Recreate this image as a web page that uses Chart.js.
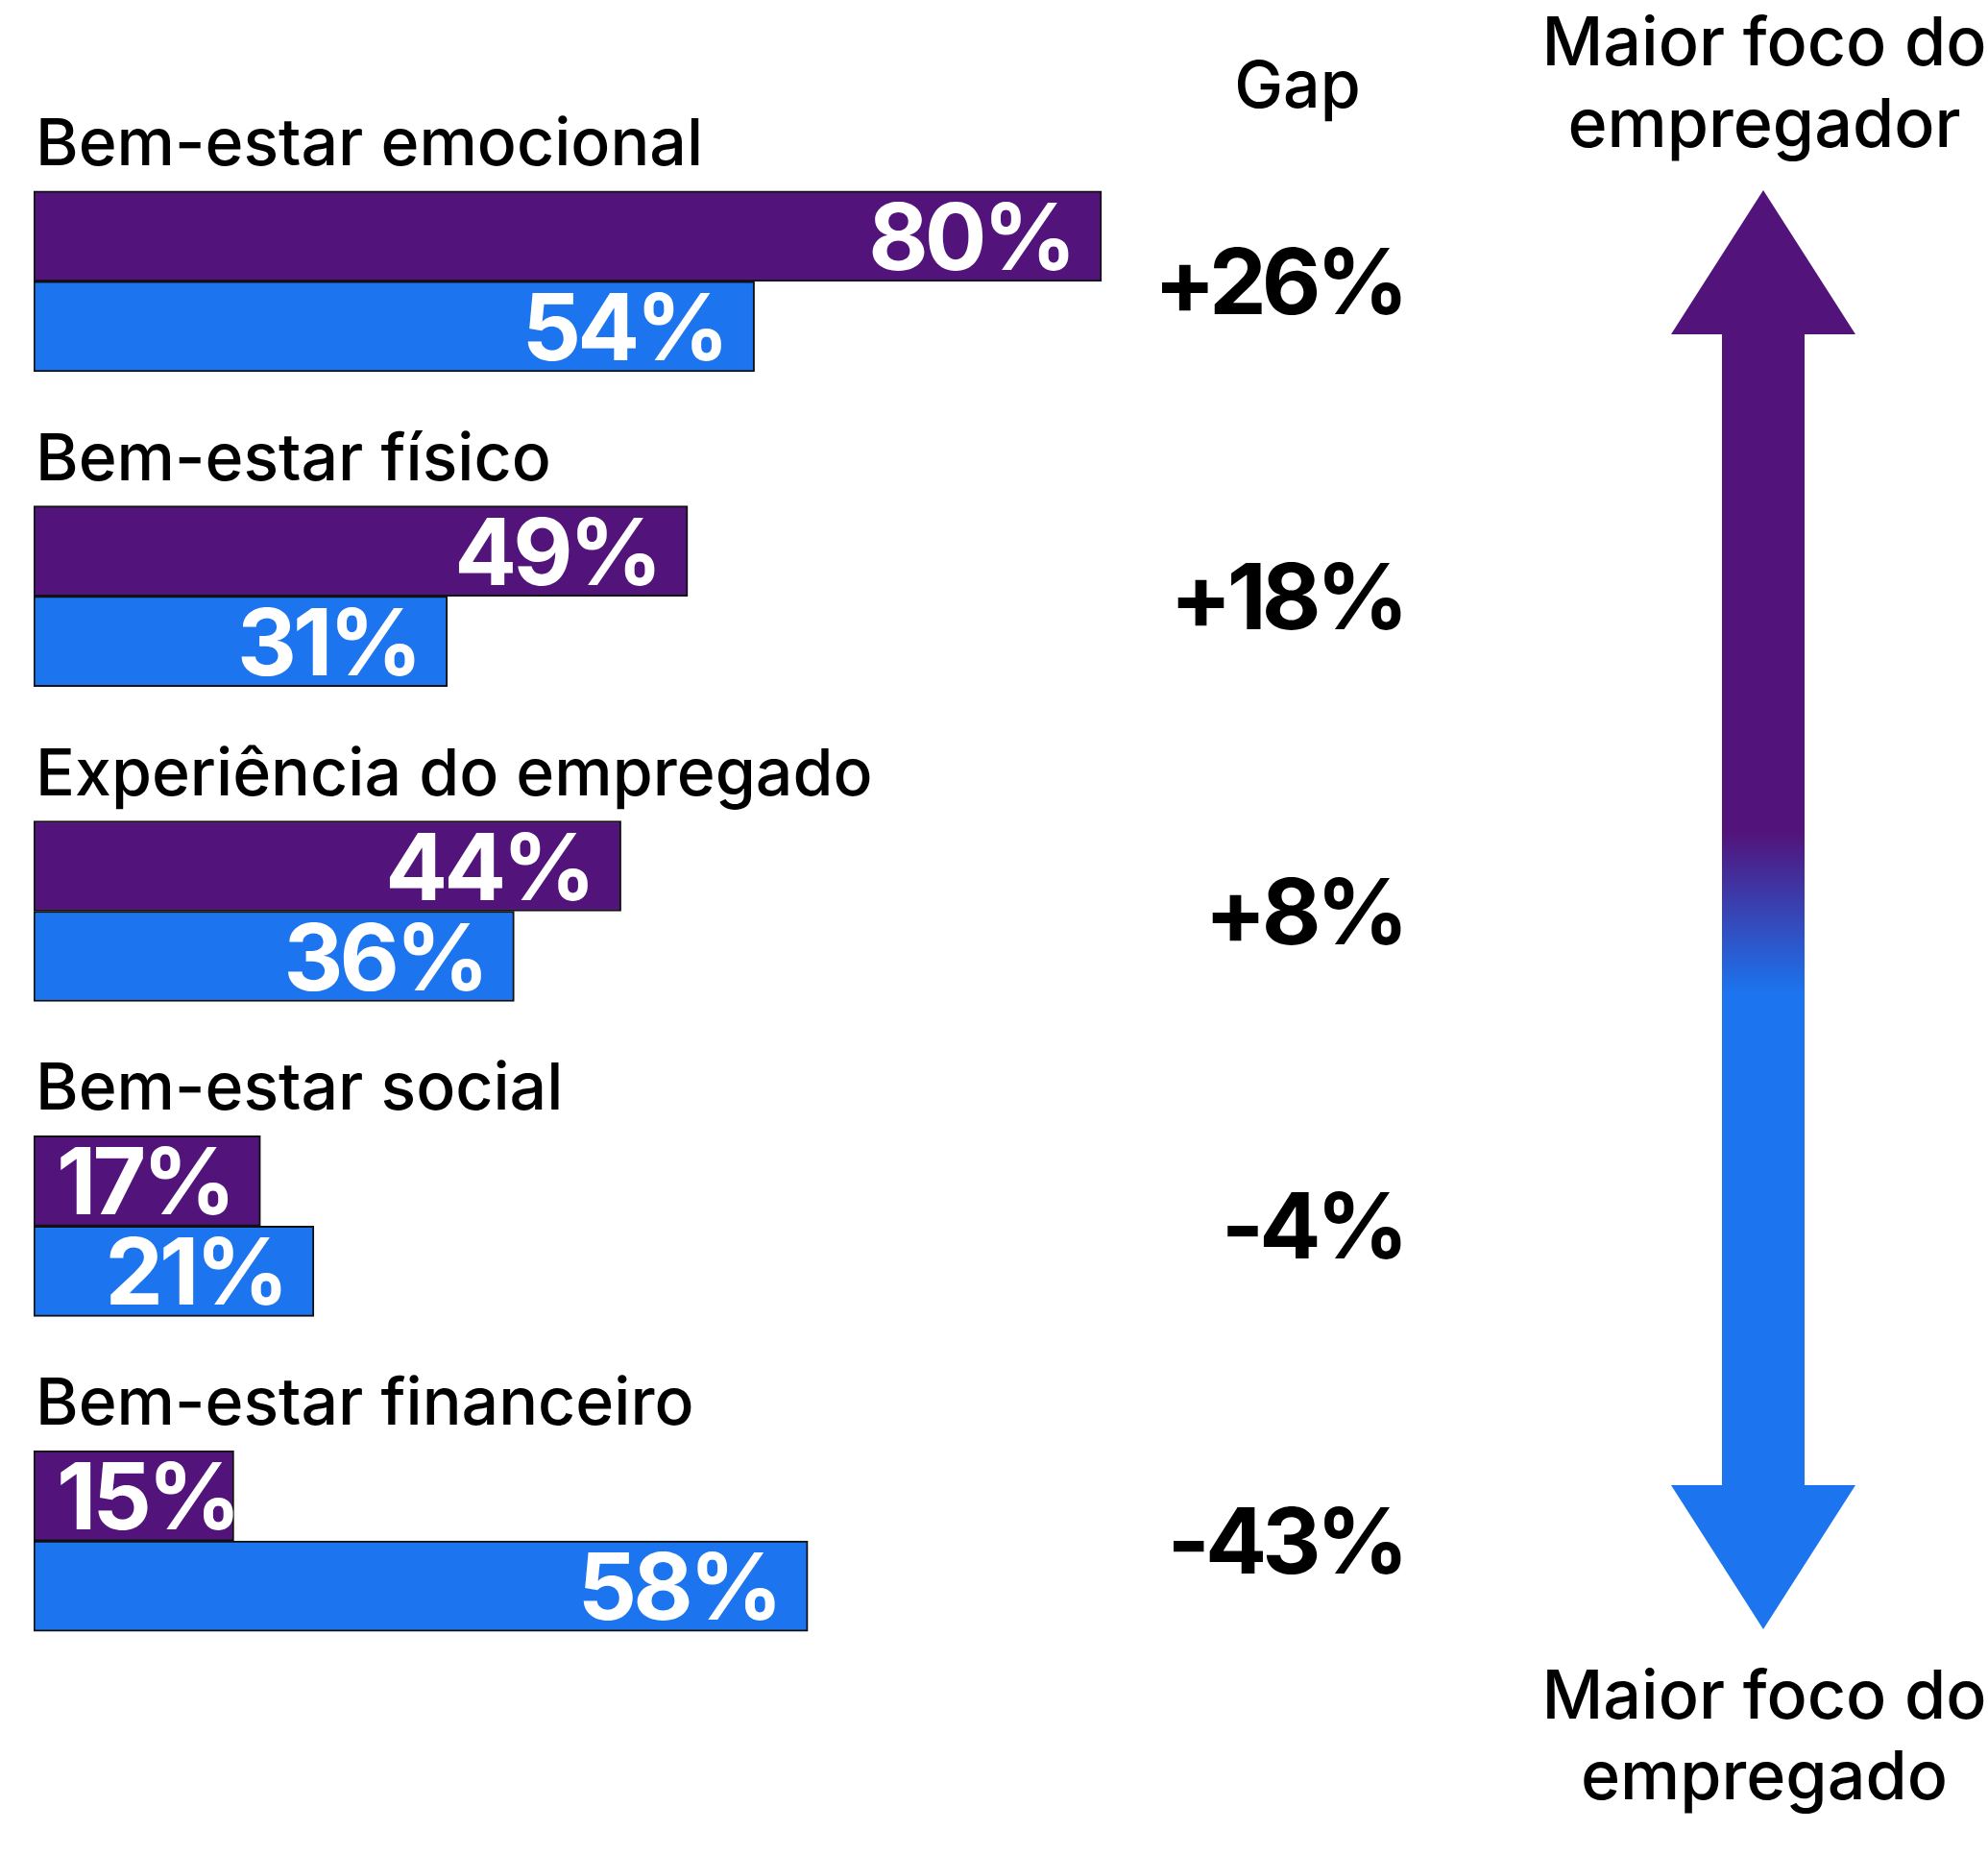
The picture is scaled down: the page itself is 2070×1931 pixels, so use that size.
<!DOCTYPE html>
<html>
<head>
<meta charset="utf-8">
<script src="https://cdn.jsdelivr.net/npm/chart.js@4.4.0/dist/chart.umd.min.js"></script>
<style>
  html, body { margin: 0; padding: 0; background: #fff; }
  #wrap { width: 2070px; height: 1931px; position: relative; }
</style>
</head>
<body>
<div id="wrap"><canvas id="gapChart" width="2070" height="1931"></canvas></div>
<script>
// dados
const categories = [
  "Bem-estar emocional",
  "Bem-estar físico",
  "Experiência do empregado",
  "Bem-estar social",
  "Bem-estar financeiro"
];
const employerFocus = [80, 49, 44, 17, 15];
const employeeFocus = [54, 31, 36, 21, 58];
const gapLabels = ["+26%", "+18%", "+8%", "-4%", "-43%"];

const PURPLE = "#52147B";
const BLUE = "#1C74EE";
const FONT = "Inter, 'Noto Sans', sans-serif";

const labelsPlugin = {
  id: "labels",
  afterDatasetsDraw(chart) {
    const ctx = chart.ctx;
    const area = chart.chartArea;
    const yScale = chart.scales.y;
    ctx.save();

    // valores dentro das barras
    ctx.fillStyle = "#fff";
    ctx.font = "700 96px " + FONT;
    ctx.letterSpacing = "-4px";
    ctx.textAlign = "right";
    ctx.textBaseline = "alphabetic";
    chart.data.datasets.forEach((ds, di) => {
      chart.getDatasetMeta(di).data.forEach((bar, i) => {
        const txt = ds.data[i] + "%";
        const w = ctx.measureText(txt).width;
        const x = Math.max(bar.x - 30, bar.base + 24 + w);
        ctx.fillText(txt, x, bar.y + 35);
      });
    });

    // nomes das categorias
    ctx.letterSpacing = "0px";
    ctx.fillStyle = "#000";
    ctx.font = "500 68px " + FONT;
    ctx.textAlign = "left";
    const top = chart.getDatasetMeta(0).data;
    top.forEach((bar, i) => {
      ctx.fillText(categories[i], area.left + 2, bar.y - bar.height / 2 - 27);
    });

    // coluna Gap
    ctx.textAlign = "center";
    ctx.fillText("Gap", 1351, 112);
    ctx.font = "700 95px " + FONT;
    ctx.letterSpacing = "-5px";
    ctx.textAlign = "right";
    gapLabels.forEach((g, i) => {
      ctx.fillText(g, 1462, yScale.getPixelForValue(i) + 34);
    });
    ctx.letterSpacing = "0px";

    // seta
    const grad = ctx.createLinearGradient(0, 867, 0, 1033);
    grad.addColorStop(0, PURPLE);
    grad.addColorStop(1, BLUE);
    ctx.fillStyle = grad;
    ctx.beginPath();
    ctx.moveTo(1836, 198);
    ctx.lineTo(1932, 348);
    ctx.lineTo(1879, 348);
    ctx.lineTo(1879, 1546);
    ctx.lineTo(1932, 1546);
    ctx.lineTo(1836, 1696);
    ctx.lineTo(1740, 1546);
    ctx.lineTo(1793, 1546);
    ctx.lineTo(1793, 348);
    ctx.lineTo(1740, 348);
    ctx.closePath();
    ctx.fill();

    ctx.fillStyle = "#000";
    ctx.font = "500 70px " + FONT;
    ctx.textAlign = "center";
    ctx.fillText("Maior foco do", 1837, 68);
    ctx.fillText("empregador", 1837, 153);
    ctx.fillText("Maior foco do", 1837, 1789);
    ctx.fillText("empregado", 1837, 1873);
    ctx.restore();
  }
};

new Chart(document.getElementById("gapChart"), {
  type: "bar",
  data: {
    labels: categories,
    datasets: [
      { label: "Empregador", data: employerFocus, backgroundColor: PURPLE },
      { label: "Empregado", data: employeeFocus, backgroundColor: BLUE }
    ]
  },
  options: {
    indexAxis: "y",
    responsive: false,
    devicePixelRatio: 1,
    animation: false,
    layout: { padding: { left: 35, top: 129, right: 645, bottom: 163 } },
    datasets: {
      bar: {
        barThickness: 94,
        borderWidth: 2,
        borderColor: "#111",
        borderSkipped: false
      }
    },
    scales: {
      x: { display: false, min: 0, max: 100 },
      y: { display: false }
    },
    plugins: {
      legend: { display: false },
      tooltip: { enabled: false }
    }
  },
  plugins: [labelsPlugin]
});
</script>
</body>
</html>
